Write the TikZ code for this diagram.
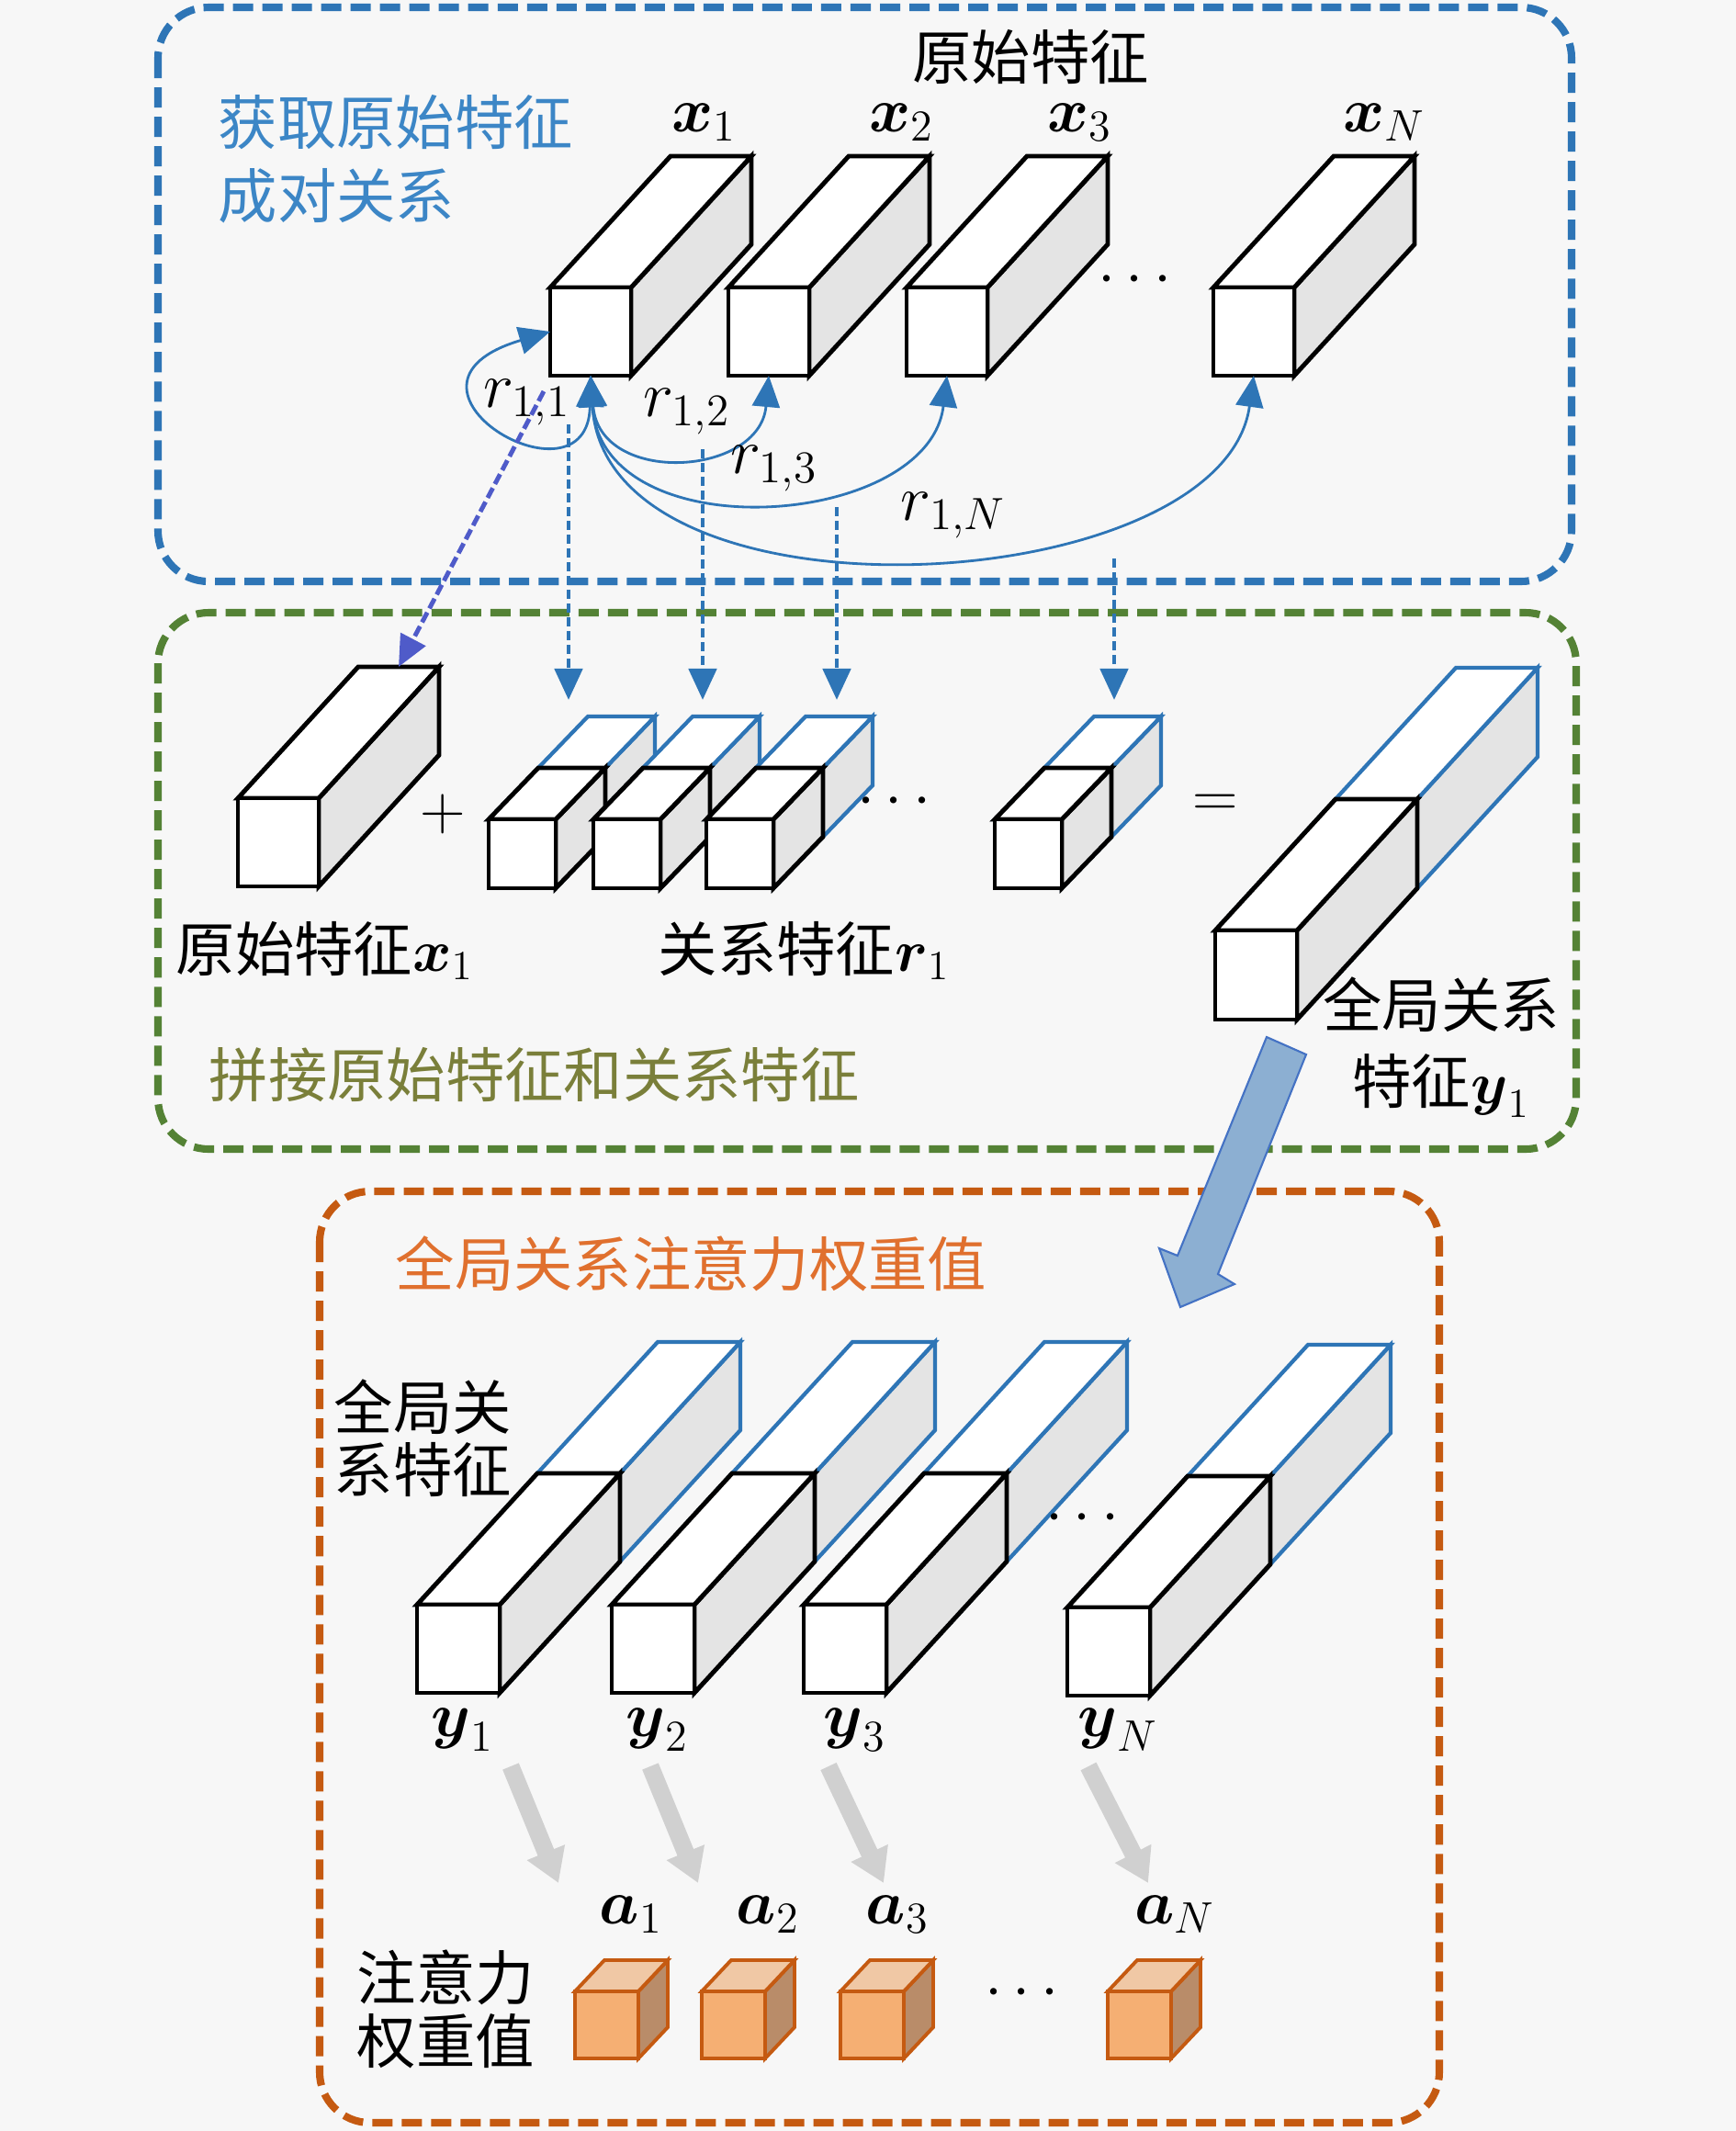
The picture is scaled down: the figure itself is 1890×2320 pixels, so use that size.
\documentclass[tikz,border=0pt]{standalone}
\usepackage{fix-cm}
\usepackage{amsmath}
\usepackage{fontspec}
\usepackage{tikz}
\usetikzlibrary{arrows.meta}
\newfontfamily\cjk{Noto Sans CJK SC}
\definecolor{paper}{HTML}{F7F7F7}
\definecolor{boxblue}{HTML}{2E75B6}
\definecolor{boxgreen}{HTML}{548235}
\definecolor{boxorange}{HTML}{C55A11}
\definecolor{txtblue}{HTML}{3C86C6}
\definecolor{txtgreen}{HTML}{7A7F3A}
\definecolor{txtorange}{HTML}{E0702E}
\definecolor{sidegray}{HTML}{E4E4E4}
\definecolor{diaglink}{HTML}{4F5BC9}
\definecolor{bigfill}{HTML}{8CAFD2}
\definecolor{bigedge}{HTML}{4472C4}
\definecolor{fadegray}{HTML}{D0D0D0}
\definecolor{cubefront}{HTML}{F5AF73}
\definecolor{cubetop}{HTML}{F0C8A5}
\definecolor{cubeside}{HTML}{B98C69}

\tikzset{
  stage/.style={line width=2.3pt, dash pattern=on 0.22cm off 0.1cm, rounded corners=0.55cm},
  blackedge/.style={draw=black, line width=1.4pt},
  blueedge/.style={draw=boxblue, line width=1.2pt},
  cubeedge/.style={draw=boxorange, line width=1.1pt},
  relcurve/.style={draw=boxblue, line width=0.8pt,
    {Triangle[length=0.34cm,width=0.3cm]}-{Triangle[length=0.34cm,width=0.3cm]}},
  droparrow/.style={draw=boxblue, line width=1.4pt, dash pattern=on 0.1cm off 0.05cm,
    -{Triangle[length=0.34cm,width=0.3cm]}},
  diagarrow/.style={draw=diaglink, line width=1.4pt, dash pattern=on 0.12cm off 0.05cm,
    -{Triangle[length=0.34cm,width=0.3cm]}},
  fadearrow/.style={draw=fadegray, line width=0.19cm, -{Triangle[length=0.36cm,width=0.42cm]}},
  zh/.style={font=\cjk\fontsize{18.3}{22.8}\selectfont, inner sep=0pt},
  sym/.style={font=\fontsize{19.5}{22}\selectfont, inner sep=0pt},
  rlab/.style={font=\fontsize{20}{22}\selectfont, inner sep=0pt},
}

% name, x, y (front top-left), width, height, depth x, depth y, edge style
\newcommand{\cuboid}[8]{%
  \draw[#8, fill=sidegray] (#2+#4,#3) -- ++(#6,-#7) -- ++(0,#5) -- ++(-#6,#7) -- cycle;
  \draw[#8, fill=white] (#2,#3) -- ++(#6,-#7) -- ++(#4,0) -- ++(-#6,#7) -- cycle;
  \draw[#8, fill=white] (#2,#3) rectangle ++(#4,#5);
  \coordinate (#1-b) at (#2+#4/2,#3+#5);
  \coordinate (#1-l) at (#2,#3+#5/2);
  \coordinate (#1-t) at (#2+#6+#4/2,#3-#7);
}
% x, y (front top-left)
\newcommand{\attcube}[2]{%
  \draw[cubeedge, fill=cubeside] (#1+69,#2) -- ++(32,-34) -- ++(0,73) -- ++(-32,34) -- cycle;
  \draw[cubeedge, fill=cubetop] (#1,#2) -- ++(32,-34) -- ++(69,0) -- ++(-32,34) -- cycle;
  \draw[cubeedge, fill=cubefront] (#1,#2) rectangle ++(69,73);
}

\begin{document}
\begin{tikzpicture}[x=0.01cm, y=-0.01cm]
  \fill[paper] (0,0) rectangle (1890,2320);
  \useasboundingbox (0,0) rectangle (1890,2320);

  % three stages
  \draw[stage, boxblue] (172,8) rectangle (1711,633);
  \draw[stage, boxgreen] (172,667) rectangle (1716,1251);
  \draw[stage, boxorange] (348,1297) rectangle (1567,2311);

  % --- stage 1: original features and pairwise relations
  \node[zh] (orig) at (1122,62) {原始特征};
  \node[zh, text=txtblue, align=left, anchor=west] (stage1) at (237,173) {获取原始特征\\成对关系};
  \foreach \px/\i in {599/1, 793/2, 987/3, 1321/N}
    \cuboid{x\i}{\px}{313}{88}{96}{131}{143}{blackedge};
  \node[sym] (lx1) at (767,133) {$\boldsymbol{x}_1$};
  \node[sym] (lx2) at (982,133) {$\boldsymbol{x}_2$};
  \node[sym] (lx3) at (1176,133) {$\boldsymbol{x}_3$};
  \node[sym] (lxN) at (1507,133) {$\boldsymbol{x}_N$};
  \node[sym] (dotsx) at (1241,305) {$\cdots$};

  \draw[relcurve] (x1-b) .. controls +(-3,152) and +(-199,59) .. (x1-l);
  \draw[relcurve] (x1-b) .. controls +(10,120) and +(-10,110) .. (x2-b);
  \draw[relcurve] (x1-b) .. controls +(12,192) and +(-20,167) .. (x3-b);
  \draw[relcurve] (x1-b) .. controls +(17,282) and +(-34,244) .. (xN-b);
  \node[rlab] (r11) at (574,438) {$r_{1,1}$};
  \node[rlab] (r12) at (748,448) {$r_{1,2}$};
  \node[rlab] (r13) at (843,510) {$r_{1,3}$};
  \node[rlab] (r1N) at (1038,561) {$r_{1,N}$};

  % --- stage 2: concatenation
  \cuboid{xg}{259}{869}{88}{96}{131}{143}{blackedge}
  \foreach \px [count=\i] in {532, 646, 769, 1083} {
    \cuboid{rb\i}{\px}{892}{73}{75}{108}{112}{blueedge}
    \cuboid{r\i}{\px}{892}{73}{75}{54}{56}{blackedge}
  }
  \cuboid{ygb}{1323}{1013}{89}{97}{262}{286}{blueedge}
  \cuboid{yg}{1323}{1013}{89}{97}{131}{143}{blackedge}
  \node[sym] (plus) at (482,886) {$+$};
  \node[sym] (dotsr) at (979,873) {$\cdots$};
  \node[sym] (equal) at (1323,877) {$=$};

  \coordinate (d0) at (592,426);
  \draw[diagarrow] (d0) -- (xg-t);
  \foreach \px/\py [count=\i] in {619/462, 765/489, 911/552, 1213/608} {
    \coordinate (s\i) at (\px,\py);
    \coordinate (e\i) at (\px,762);
    \draw[droparrow] (s\i) -- (e\i);
  }

  \node[zh, anchor=west] (origx) at (191,1035) {原始特征$\boldsymbol{x}_1$};
  \node[zh, anchor=west] (relr) at (716,1035) {关系特征$\boldsymbol{r}_1$};
  \node[zh, align=center, font=\cjk\fontsize{18.3}{23.6}\selectfont] (globy) at (1569,1140)
    {全局关系\\特征$\boldsymbol{y}_1$};
  \node[zh, text=txtgreen, anchor=west] (stage2) at (227,1170) {拼接原始特征和关系特征};

  % big arrow to stage 3
  \filldraw[fill=bigfill, draw=bigedge, line width=0.6pt]
    (1379,1129) -- (1422,1148) -- (1326,1387) -- (1344,1398) -- (1285,1423)
    -- (1262,1359) -- (1282,1367) -- cycle;

  % --- stage 3: attention weights
  \node[zh, text=txtorange, anchor=west] (stage3) at (430,1376) {全局关系注意力权重值};
  \node[zh, align=left, anchor=west, font=\cjk\fontsize{18.3}{19.3}\selectfont] (globf) at (363,1566)
    {全局关\\系特征};
  \foreach \px/\py/\i in {454/1747/1, 666/1747/2, 875/1747/3, 1162/1750/N} {
    \cuboid{yb\i}{\px}{\py}{90}{96}{262}{286}{blueedge}
    \cuboid{y\i}{\px}{\py}{90}{96}{131}{143}{blackedge}
  }
  \node[sym] (dotsy) at (1184,1653) {$\cdots$};
  \node[sym] (ly1) at (504,1883) {$\boldsymbol{y}_1$};
  \node[sym] (ly2) at (716,1883) {$\boldsymbol{y}_2$};
  \node[sym] (ly3) at (931,1883) {$\boldsymbol{y}_3$};
  \node[sym] (lyN) at (1217,1883) {$\boldsymbol{y}_N$};

  \foreach \tx/\hx [count=\i] in {556/608, 708/760, 902/962, 1185/1250} {
    \coordinate (g\i) at (\tx,1923);
    \coordinate (h\i) at (\hx,2050);
    \draw[fadearrow] (g\i) -- (h\i);
  }

  \node[sym] (la1) at (687,2084) {$\boldsymbol{a}_1$};
  \node[sym] (la2) at (836,2084) {$\boldsymbol{a}_2$};
  \node[sym] (la3) at (977,2084) {$\boldsymbol{a}_3$};
  \node[sym] (laN) at (1279,2084) {$\boldsymbol{a}_N$};
  \foreach \px in {626, 764, 915, 1206}
    \attcube{\px}{2168};
  \node[sym] (dotsa) at (1118,2170) {$\cdots$};
  \node[zh, align=left, anchor=west, font=\cjk\fontsize{18.3}{19.6}\selectfont] (attw) at (388,2187)
    {注意力\\权重值};
\end{tikzpicture}
\end{document}
